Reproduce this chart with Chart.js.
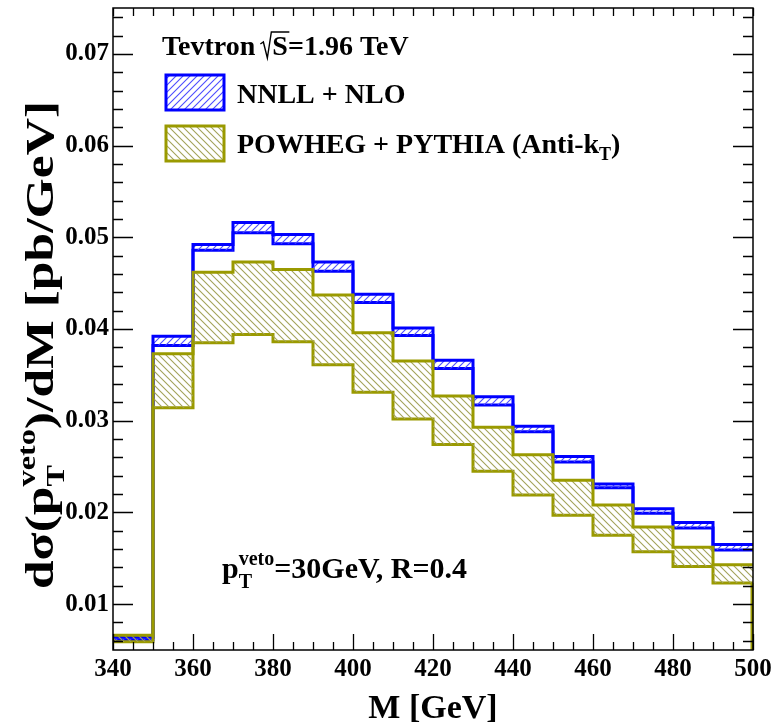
<!DOCTYPE html>
<html>
<head>
<meta charset="utf-8">
<script src="https://cdn.jsdelivr.net/npm/chart.js@4.4.1/dist/chart.umd.min.js"></script>
<style>
  html, body { margin: 0; padding: 0; background: #fff; }
  #wrap { width: 774px; height: 725px; }
</style>
</head>
<body>
<div id="wrap"><canvas id="c"></canvas></div>
<script>
// bin edges in GeV
const edges = [340, 350, 360, 370, 380, 390, 400, 410, 420, 430, 440, 450, 460, 470, 480, 490, 500];
// NNLL + NLO band
const nnllHigh = [0.0064, 0.0392, 0.0492, 0.0516, 0.0503, 0.0473, 0.0438, 0.0401, 0.0366, 0.0326, 0.0294, 0.0261, 0.0231, 0.0204, 0.0189, 0.0165];
const nnllLow  = [0.0061, 0.0382, 0.0486, 0.0505, 0.0493, 0.0463, 0.0429, 0.0393, 0.0357, 0.0317, 0.0288, 0.0255, 0.0227, 0.0199, 0.0183, 0.0159];
// POWHEG + PYTHIA band
const powHigh = [0.0066, 0.0373, 0.0462, 0.0473, 0.0465, 0.0437, 0.0396, 0.0365, 0.0327, 0.0293, 0.0263, 0.0235, 0.0208, 0.0184, 0.0162, 0.0143];
const powLow  = [0.0059, 0.0314, 0.0385, 0.0394, 0.0386, 0.0361, 0.0331, 0.0302, 0.0274, 0.0245, 0.0219, 0.0197, 0.0175, 0.0157, 0.0141, 0.0123];
const xTicks = [340, 360, 380, 400, 420, 440, 460, 480, 500];
const yTicks = [0.01, 0.02, 0.03, 0.04, 0.05, 0.06, 0.07];

const BLUE = '#0000ff';
const OLIVE = '#9a9a00';
const SERIF = '"Liberation Serif", "DejaVu Serif", serif';

const ctx = document.getElementById('c').getContext('2d');

function hatch(color, up) {
  const n = 7;
  const c = document.createElement('canvas');
  c.width = n; c.height = n;
  const g = c.getContext('2d');
  g.strokeStyle = color;
  g.lineWidth = 1.1;
  g.beginPath();
  if (up) {
    g.moveTo(0, n); g.lineTo(n, 0);
    g.moveTo(-2, 2); g.lineTo(2, -2);
    g.moveTo(n - 2, n + 2); g.lineTo(n + 2, n - 2);
  } else {
    g.moveTo(0, 0); g.lineTo(n, n);
    g.moveTo(n - 2, -2); g.lineTo(n + 2, 2);
    g.moveTo(-2, n - 2); g.lineTo(2, n + 2);
  }
  g.stroke();
  return ctx.createPattern(c, 'repeat');
}
const bluePat = hatch('#4d4dff', true);
const olivePat = hatch('#a3a35a', false);

// histogram step points: value of bin i at its left edge, last value repeated at right edge
function steps(vals) {
  return edges.map((e, i) => ({ x: e, y: vals[Math.min(i, vals.length - 1)] }));
}

function line(vals, color, pat) {
  return {
    data: steps(vals),
    borderColor: color,
    borderWidth: 3,
    backgroundColor: pat || 'transparent',
    fill: pat ? '+1' : false,
    stepped: 'before',
    pointRadius: 0,
    borderJoinStyle: 'miter',
    borderCapStyle: 'butt'
  };
}

// draws text with a stacked sub/superscript part
function rich(g, segs, x, y, align) {
  const widths = segs.map(s => {
    g.font = 'bold ' + s.size + 'px ' + SERIF;
    if (s.t !== undefined) return g.measureText(s.t).width;
    return Math.max(g.measureText(s.sub).width, g.measureText(s.sup).width);
  });
  const total = widths.reduce((a, b) => a + b, 0);
  let cx = align === 'center' ? x - total / 2 : x;
  g.textAlign = 'left';
  g.textBaseline = 'alphabetic';
  segs.forEach((s, i) => {
    g.font = 'bold ' + s.size + 'px ' + SERIF;
    if (s.t !== undefined) {
      g.fillText(s.t, cx, y);
    } else {
      g.fillText(s.sub, cx, y + s.dsub);
      g.fillText(s.sup, cx, y - s.dsup);
    }
    cx += widths[i];
  });
}

const decor = {
  id: 'decor',
  afterDatasetsDraw(chart) {
    const g = chart.ctx;
    const a = chart.chartArea;
    const xs = chart.scales.x, ys = chart.scales.y;
    g.save();

    // olive edge down to the axis at the last bin edge
    const xEnd = xs.getPixelForValue(edges[edges.length - 1]) - 1;
    g.strokeStyle = OLIVE;
    g.lineWidth = 3;
    g.beginPath();
    g.moveTo(xEnd, ys.getPixelForValue(powLow[powLow.length - 1]));
    g.lineTo(xEnd, a.bottom);
    g.stroke();

    // frame
    g.strokeStyle = '#000';
    g.lineWidth = 1.5;
    g.strokeRect(a.left, a.top, a.right - a.left, a.bottom - a.top);

    // ticks on all four sides, pointing inward
    g.lineWidth = 1.3;
    g.beginPath();
    for (let v = xs.min; v <= xs.max + 0.01; v += 5) {
      const px = Math.round(xs.getPixelForValue(v)) + 0.5;
      const len = (v % 20 === 0) ? 16 : 8;
      g.moveTo(px, a.bottom); g.lineTo(px, a.bottom - len);
      g.moveTo(px, a.top); g.lineTo(px, a.top + 8);
    }
    for (let k = 6; k <= 74; k += 2) {
      const py = Math.round(ys.getPixelForValue(k / 1000)) + 0.5;
      const len = (k % 10 === 0) ? 20 : 10;
      g.moveTo(a.left, py); g.lineTo(a.left + len, py);
      g.moveTo(a.right, py); g.lineTo(a.right - len, py);
    }
    g.stroke();

    // legend
    g.fillStyle = '#000';
    g.font = 'bold 28px ' + SERIF;
    g.textAlign = 'left';
    g.textBaseline = 'alphabetic';
    g.fillText('Tevtron', 162, 55);
    const sx = 162 + g.measureText('Tevtron').width + 8;
    g.lineWidth = 1.4;
    g.beginPath();
    g.moveTo(sx - 3, 44);
    g.lineTo(sx, 42);
    g.lineTo(sx + 4, 58);
    g.lineTo(sx + 8, 32);
    g.lineTo(sx + 26, 32);
    g.stroke();
    g.fillText('S=1.96 TeV', sx + 9, 55);

    function box(y, pat, col) {
      g.fillStyle = '#fff';
      g.fillRect(166, y, 58, 35);
      g.fillStyle = pat;
      g.fillRect(166, y, 58, 35);
      g.strokeStyle = col;
      g.lineWidth = 3;
      g.strokeRect(166, y, 58, 35);
    }
    box(75, bluePat, BLUE);
    box(126, olivePat, OLIVE);
    g.fillStyle = '#000';
    g.font = 'bold 28px ' + SERIF;
    g.fillText('NNLL + NLO', 237, 103);
    rich(g, [
      { t: 'POWHEG + PYTHIA (Anti-k', size: 28 },
      { sub: 'T', sup: '', size: 18, dsub: 7, dsup: 0 },
      { t: ')', size: 28 }
    ], 237, 153, 'left');

    // cut annotation
    rich(g, [
      { t: 'p', size: 30 },
      { sub: 'T', sup: 'veto', size: 20, dsub: 10, dsup: 13 },
      { t: '=30GeV, R=0.4', size: 30 }
    ], 222, 578, 'left');

    // axis titles
    g.font = 'bold 34px ' + SERIF;
    g.textAlign = 'center';
    g.fillText('M [GeV]', (a.left + a.right) / 2, 718);

    g.save();
    g.translate(53, 345);
    g.rotate(-Math.PI / 2);
    g.scale(1.29, 1);
    rich(g, [
      { t: 'd\u03c3(p', size: 40 },
      { sub: 'T', sup: 'veto', size: 25, dsub: 11, dsup: 18 },
      { t: ')/dM [pb/GeV]', size: 40 }
    ], 0, 0, 'center');
    g.restore();

    g.restore();
  }
};

new Chart(ctx, {
  type: 'line',
  data: {
    datasets: [
      line(powHigh, OLIVE, olivePat),
      line(powLow, OLIVE),
      line(nnllHigh, BLUE, bluePat),
      line(nnllLow, BLUE)
    ]
  },
  options: {
    responsive: true,
    maintainAspectRatio: false,
    animation: false,
    layout: { padding: { top: 8, right: 21, left: 0, bottom: 0 } },
    plugins: { legend: { display: false }, tooltip: { enabled: false } },
    scales: {
      x: {
        type: 'linear',
        min: 340,
        max: 500,
        afterBuildTicks: s => { s.ticks = xTicks.map(v => ({ value: v })); },
        afterFit: s => { s.height = 75; s.paddingLeft = 0; s.paddingRight = 0; },
        grid: { display: false, drawTicks: false },
        border: { display: false },
        ticks: {
          color: '#000',
          padding: 5,
          maxRotation: 0,
          font: { family: SERIF, size: 25, weight: 'bold' }
        }
      },
      y: {
        type: 'linear',
        min: 0.005,
        max: 0.075,
        afterBuildTicks: s => { s.ticks = yTicks.map(v => ({ value: v })); },
        afterFit: s => { s.width = 113; s.paddingTop = 0; s.paddingBottom = 0; },
        grid: { display: false, drawTicks: false },
        border: { display: false },
        ticks: {
          color: '#000',
          padding: 4,
          font: { family: SERIF, size: 25, weight: 'bold' },
          callback: v => v.toFixed(2)
        }
      }
    }
  },
  plugins: [decor]
});
</script>
</body>
</html>
